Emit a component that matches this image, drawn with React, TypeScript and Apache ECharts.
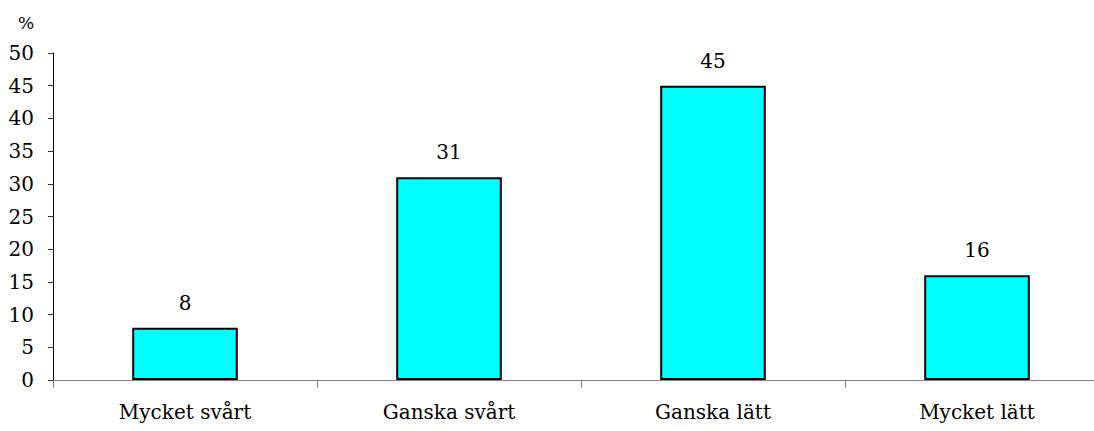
import React, { useEffect, useRef } from "react";
import * as echarts from "echarts";

const categories = ["Mycket svårt", "Ganska svårt", "Ganska lätt", "Mycket lätt"];
const values = [8, 31, 45, 16];
const yMin = 0;
const yMax = 50;
const yInterval = 5;
const unitLabel = "%";

const FONT = "DejaVu Serif";

export default function App() {
  const ref = useRef<HTMLDivElement>(null);
  useEffect(() => {
    document.body.style.margin = "0";
    const chart = echarts.init(ref.current!, null, { renderer: "svg" });
    chart.setOption({
      animation: false,
      backgroundColor: "#ffffff",
      grid: { left: 53, top: 53, bottom: 51, right: -15, outerBoundsMode: "none", containLabel: false },
      graphic: [
        {
          type: "text",
          left: 18,
          top: 14,
          style: { text: unitLabel, fontFamily: FONT, fontSize: 17, fill: "#000" },
        },
      ],
      xAxis: {
        type: "category",
        data: categories,
        axisLine: { lineStyle: { color: "#808080", width: 1 } },
        axisTick: { show: true, length: 8, lineStyle: { color: "#808080" } },
        axisLabel: { color: "#000", fontFamily: FONT, fontSize: 20, margin: 22 },
      },
      yAxis: {
        type: "value",
        min: yMin,
        max: yMax,
        interval: yInterval,
        axisLine: { show: true, lineStyle: { color: "#000", width: 1 } },
        axisTick: { show: true, length: 5, lineStyle: { color: "#333" } },
        axisLabel: { color: "#000", fontFamily: FONT, fontSize: 20, margin: 19 },
        splitLine: { show: false },
      },
      series: [
        {
          type: "bar",
          data: values,
          barWidth: "40%",
          itemStyle: { color: "#00ffff", borderColor: "#000", borderWidth: 2 },
          label: { show: true, position: "top", distance: 15, color: "#000", fontFamily: FONT, fontSize: 20 },
        },
      ],
    });
    return () => chart.dispose();
  }, []);
  return <div ref={ref} style={{ width: 1094, height: 431 }} />;
}
